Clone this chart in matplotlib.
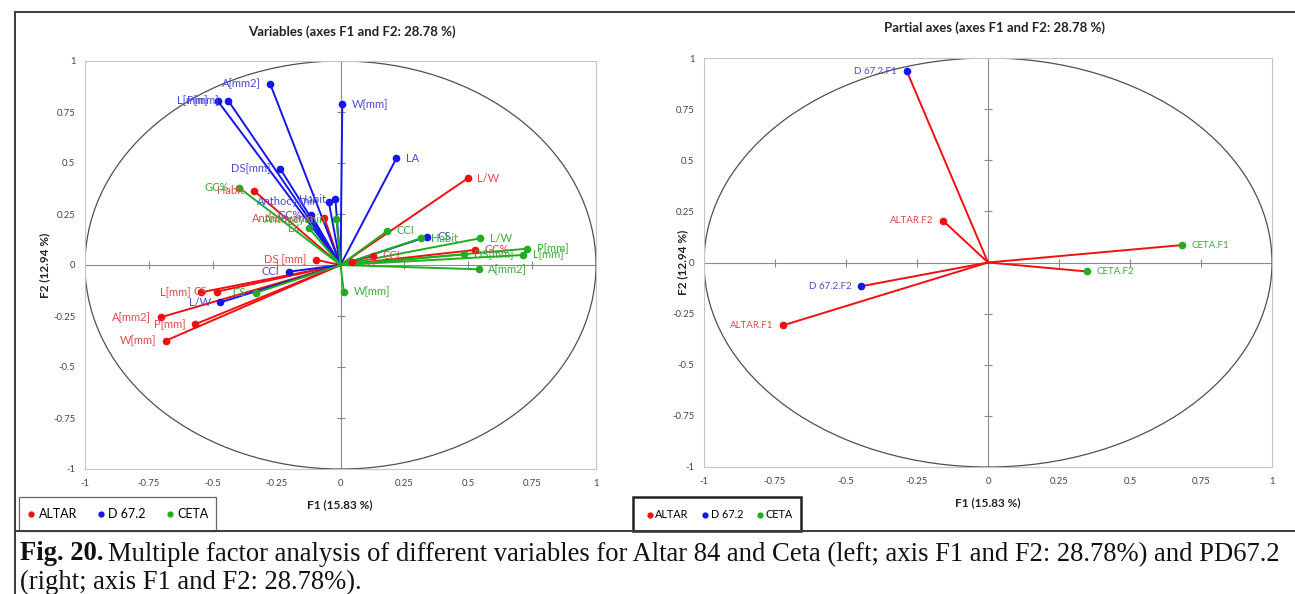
import numpy as np
import matplotlib
matplotlib.use('Agg')
import matplotlib.pyplot as plt
from matplotlib.patches import Circle, Rectangle
from matplotlib.lines import Line2D

plt.rcParams['font.family'] = ['Lato', 'DejaVu Sans']

# ---------------- data ----------------
ticks = [-1, -0.75, -0.5, -0.25, 0, 0.25, 0.5, 0.75, 1]
tick_labels = ['-1', '-0.75', '-0.5', '-0.25', '0', '0.25', '0.5', '0.75', '1']

groups = ['ALTAR', 'D 67.2', 'CETA']

altar_labels = ['Habit', 'Anthocyanin', 'DS [mm]', 'LA', 'CCI', 'L/W', 'GC%',
                'L[mm]', 'CS', 'A[mm2]', 'P[mm]', 'W[mm]']
altar_x = [-0.339, -0.063, -0.094, 0.046, 0.128, 0.498, 0.527, -0.547, -0.485, -0.703, -0.570, -0.684]
altar_y = [0.364, 0.230, 0.025, 0.014, 0.045, 0.425, 0.074, -0.134, -0.131, -0.256, -0.291, -0.371]

d672_labels = ['A[mm2]', 'L[mm]', 'P[mm]', 'W[mm]', 'DS[mm]', 'Anthocyanin', 'Habit',
               'GC%', 'LA', 'CS', 'CCI', 'L/W']
d672_x = [-0.275, -0.481, -0.439, 0.007, -0.236, -0.046, -0.020, -0.114, 0.219, 0.340, -0.203, -0.470]
d672_y = [0.887, 0.805, 0.805, 0.788, 0.472, 0.310, 0.322, 0.243, 0.523, 0.139, -0.033, -0.183]

ceta_labels = ['GC%', 'Anthocyanin', 'DI', 'CCI', 'Habit', 'L/W', 'P[mm]', 'L[mm]',
               'DS[mm]', 'A[mm2]', 'W[mm]', 'CS']
ceta_x = [-0.397, -0.016, -0.123, 0.183, 0.317, 0.547, 0.731, 0.716, 0.485, 0.541, 0.013, -0.330]
ceta_y = [0.379, 0.224, 0.180, 0.167, 0.132, 0.131, 0.080, 0.049, 0.052, -0.021, -0.131, -0.136]

partial_labels = ['ALTAR.F1', 'ALTAR.F2', 'D 67.2.F1', 'D 67.2.F2', 'CETA.F1', 'CETA.F2']
partial_group = [0, 0, 1, 1, 2, 2]
partial_x = [-0.721, -0.158, -0.286, -0.446, 0.682, 0.349]
partial_y = [-0.307, 0.204, 0.936, -0.116, 0.085, -0.044]

# ---------------- style ----------------
line_cols = ['#f01010', '#1515f0', '#1fae1f']
lab_cols = ['#e44848', '#4a4ad8', '#3aaa3a']

W, H = 1295, 594
fig = plt.figure(figsize=(W / 100, H / 100), dpi=100)


def fx(px):
    return px / W


def fy(py):
    return 1 - py / H


axL = fig.add_axes([fx(85), fy(469), fx(596) - fx(85), fy(61) - fy(469)])
axR = fig.add_axes([fx(704), fy(467), fx(1272) - fx(704), fy(58) - fy(467)])


def style(ax):
    ax.set_xlim(-1, 1)
    ax.set_ylim(-1, 1)
    ax.set_xticks(ticks)
    ax.set_yticks(ticks)
    ax.set_xticklabels(tick_labels)
    ax.set_yticklabels(tick_labels)
    ax.tick_params(length=0, labelsize=6.8, labelcolor='#444', pad=7)
    for s in ax.spines.values():
        s.set_color('#c4c4c4')
        s.set_linewidth(0.8)
    ax.axhline(0, color='#8a8a8a', lw=0.8, zorder=1)
    ax.axvline(0, color='#8a8a8a', lw=0.8, zorder=1)
    zeros = [0] * len(ticks)
    ax.plot(ticks, zeros, ls='none', marker='|', ms=6, mew=0.8, color='#8a8a8a', zorder=1)
    ax.plot(zeros, ticks, ls='none', marker='_', ms=6, mew=0.8, color='#8a8a8a', zorder=1)
    ax.add_patch(Circle((0, 0), 1, fill=False, ec='#505050', lw=0.9, zorder=1))


style(axL)
style(axR)

# left chart: variables
sets = [(altar_labels, altar_x, altar_y), (d672_labels, d672_x, d672_y), (ceta_labels, ceta_x, ceta_y)]
for gi, (labs, xs, ys) in enumerate(sets):
    for lab, x, y in zip(labs, xs, ys):
        axL.plot([0, x], [0, y], color=line_cols[gi], lw=1.4, zorder=2)
    axL.plot(xs, ys, ls='none', marker='o', ms=4.5, color=line_cols[gi], zorder=3)
for gi, (labs, xs, ys) in enumerate(sets):
    for lab, x, y in zip(labs, xs, ys):
        left = x < 0
        axL.annotate(lab, (x, y), xytext=(-7 if left else 7, 0), textcoords='offset points',
                     ha='right' if left else 'left', va='center', fontsize=8,
                     color=lab_cols[gi], zorder=4)

# right chart: partial axes
for lab, g, x, y in zip(partial_labels, partial_group, partial_x, partial_y):
    axR.plot([0, x], [0, y], color=line_cols[0], lw=1.4, zorder=2)
for lab, g, x, y in zip(partial_labels, partial_group, partial_x, partial_y):
    axR.plot([x], [y], ls='none', marker='o', ms=4.5, color=line_cols[g], zorder=3)
    left = x < 0
    axR.annotate(lab, (x, y), xytext=(-7 if left else 7, 0), textcoords='offset points',
                 ha='right' if left else 'left', va='center', fontsize=7,
                 color=lab_cols[g], zorder=4)

# titles and axis labels
fig.text(fx(352), fy(32), 'Variables (axes F1 and F2: 28.78 %)', ha='center', va='center',
         fontsize=9.5, fontweight='bold', color='#222')
fig.text(fx(995), fy(28), 'Partial axes (axes F1 and F2: 28.78 %)', ha='center', va='center',
         fontsize=9.5, fontweight='bold', color='#222')
fig.text(fx(340), fy(505), 'F1 (15.83 %)', ha='center', va='center', fontsize=8.5,
         fontweight='bold', color='#222')
fig.text(fx(988), fy(503), 'F1 (15.83 %)', ha='center', va='center', fontsize=8.5,
         fontweight='bold', color='#222')
fig.text(fx(45), fy(265), 'F2 (12.94 %)', ha='center', va='center', rotation=90, fontsize=8.5,
         fontweight='bold', color='#222')
fig.text(fx(683), fy(262), 'F2 (12.94 %)', ha='center', va='center', rotation=90, fontsize=8.5,
         fontweight='bold', color='#222')

# frame lines
lk = dict(transform=fig.transFigure, color='#3a3a3a', lw=1.4)
fig.add_artist(Line2D([fx(15), 1], [fy(12), fy(12)], **lk))
fig.add_artist(Line2D([fx(15), fx(15)], [fy(12), 0], **lk))
fig.add_artist(Line2D([fx(15), 1], [fy(531), fy(531)], **lk))

# legends
fig.add_artist(Rectangle((fx(19), fy(531)), fx(216) - fx(19), fy(497) - fy(531),
                         transform=fig.transFigure, fill=False, ec='#666', lw=0.9))
fig.add_artist(Rectangle((fx(633), fy(531)), fx(801) - fx(633), fy(497) - fy(531),
                         transform=fig.transFigure, fill=False, ec='#222', lw=1.8))
handles = [Line2D([], [], ls='none', marker='o', ms=3.5, color=c) for c in line_cols]
fig.legend(handles, groups, loc='center', bbox_to_anchor=(fx(118), fy(514)), ncol=3,
           frameon=False, fontsize=9, handlelength=0.6, handletextpad=0.3,
           columnspacing=1.6, borderpad=0, borderaxespad=0)
fig.legend(handles, groups, loc='center', bbox_to_anchor=(fx(720), fy(515)), ncol=3,
           frameon=False, fontsize=7.8, handlelength=0.5, handletextpad=0.25,
           columnspacing=1.3, borderpad=0, borderaxespad=0)

# caption
cap_font = ['Liberation Serif', 'DejaVu Serif']
cap_size = 19.2
t1 = fig.text(fx(20), fy(554), 'Fig. 20.', ha='left', va='center', fontsize=cap_size,
              fontweight='bold', family=cap_font, color='#111')
fig.canvas.draw()
r = fig.canvas.get_renderer()
bb = t1.get_window_extent(r)
fig.text(bb.x1 / W + 5 / W, fy(554),
         'Multiple factor analysis of different variables for Altar 84 and Ceta (left; axis F1 and F2: 28.78%) and PD67.2',
         ha='left', va='center', fontsize=cap_size, family=cap_font, color='#111')
fig.text(fx(20), fy(582), '(right; axis F1 and F2: 28.78%).', ha='left', va='center',
         fontsize=cap_size, family=cap_font, color='#111')

fig.savefig('out.png', dpi=100)
